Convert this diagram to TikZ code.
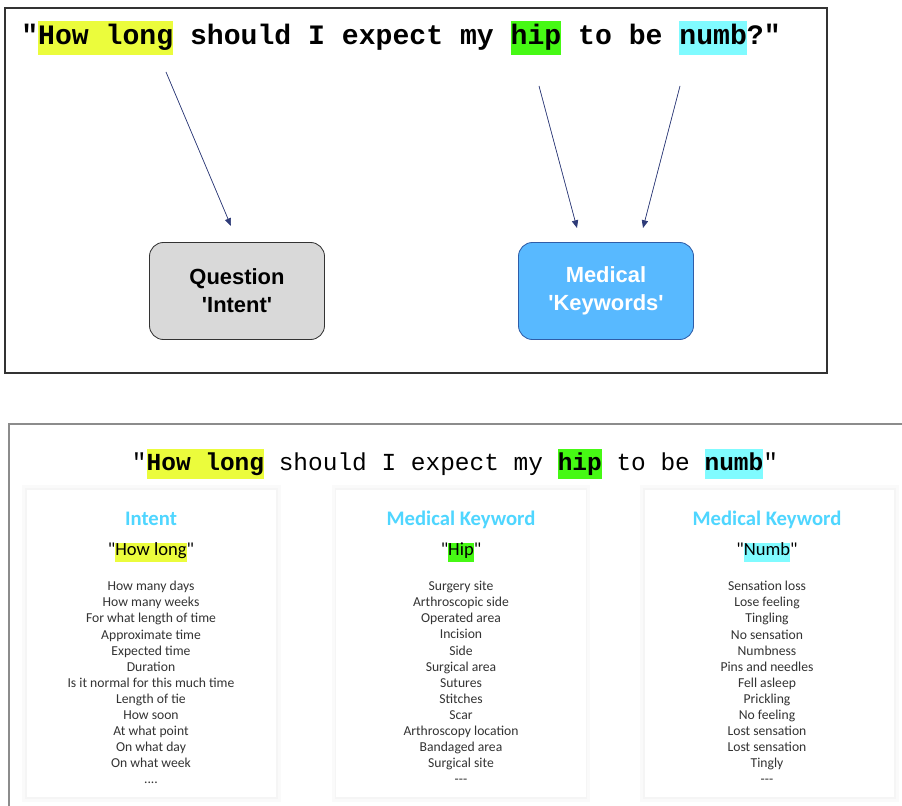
\documentclass[tikz,border=0pt]{standalone}
\usepackage{fontspec}
\setmainfont{Carlito}[Ligatures=TeXOff]
\newfontfamily\monofont{Liberation Mono}[Ligatures=TeXOff]
\newfontfamily\arialfont{Liberation Sans}[Ligatures=TeXOff]
\usepackage{tikz}
\usetikzlibrary{arrows.meta,positioning,calc}
\definecolor{hlyellow}{HTML}{EBFC3C}
\definecolor{hlgreen}{HTML}{46F914}
\definecolor{hlcyan}{HTML}{80FBFF}
\definecolor{titlecyan}{HTML}{4FD6FF}
\definecolor{kwblue}{HTML}{58B9FF}
\definecolor{kwborder}{HTML}{2F5DA8}
\definecolor{arrblue}{HTML}{2E3B78}
\newcommand{\hlw}[2]{{\setlength{\fboxsep}{0pt}\colorbox{#1}{\strut#2}}}

\begin{document}
\begin{tikzpicture}[x=0.025cm, y=-0.025cm,
    box/.style={draw=black!80, rounded corners=0.35cm, minimum width=4.375cm, minimum height=2.425cm, align=center, line width=0.6pt, font=\arialfont\bfseries\fontsize{15.6}{20}\selectfont},
    arr/.style={-{Triangle[length=5.5pt, width=4.5pt]}, draw=arrblue, fill=arrblue, line width=0.5pt},
    card/.style={fill=white, minimum width=6.225cm, minimum height=7.675cm, inner sep=0pt,
        preaction={draw=black!2, line width=7pt}, preaction={draw=black!4, line width=2.5pt}},
    ctitle/.style={inner sep=0pt, text=titlecyan, font=\bfseries\fontsize{14.7}{17}\selectfont},
    cquote/.style={inner sep=0pt, font=\fontsize{13.2}{13.5}\selectfont},
    clist/.style={inner sep=0pt, align=center, text=black!80, font=\fontsize{9.7}{11.45}\selectfont}
]
\useasboundingbox (0,0) rectangle (902,806);

% upper panel
\draw[black!80, line width=1pt] (5,8) rectangle (827,373);
\node[inner sep=0pt, font=\monofont\bfseries\fontsize{20}{24.6}\selectfont] (q1) at (401,38)
    {"\hlw{hlyellow}{How long} should I expect my \hlw{hlgreen}{hip} to be \hlw{hlcyan}{numb}?"};

\node[box, fill=black!15] (intent) at (237,291) {Question\\'Intent'};
\node[box, fill=kwblue, draw=kwborder, text=white] (keywords) at (606,291) {Medical\\'Keywords'};

\coordinate (s1) at (166,72);  \coordinate (e1) at (231,226);
\coordinate (s2) at (539,86);  \coordinate (e2) at (577,228);
\coordinate (s3) at (680,86);  \coordinate (e3) at (643,228);
\draw[arr] (s1) -- (e1);
\draw[arr] (s2) -- (e2);
\draw[arr] (s3) -- (e3);

% lower panel
\draw[black!45, line width=1.2pt] (902,424) -- (9,424) -- (9,806);
\node[inner sep=0pt, font=\monofont\fontsize{17.4}{22}\selectfont] (q2) at (455,464)
    {"\hlw{hlyellow}{\bfseries How long} should I expect my \hlw{hlgreen}{\bfseries hip} to be \hlw{hlcyan}{\bfseries numb}"};

\node[card] (card1) at (151.5,643.5) {};
\node[card] (card2) at (461,643.5) {};
\node[card] (card3) at (769.5,643.5) {};

\node[ctitle, anchor=base] (t1) at (151,526) {Intent};
\node[cquote, anchor=base] (w1) at (151,556) {"\hlw{hlyellow}{How long}"};
\node[clist, anchor=north] (l1) at (151,581) {How many days\\How many weeks\\For what length of time\\Approximate time\\Expected time\\Duration\\Is it normal for this much time\\Length of tie\\How soon\\At what point\\On what day\\On what week\\....};

\node[ctitle, anchor=base] (t2) at (461,526) {Medical Keyword};
\node[cquote, anchor=base] (w2) at (461,556) {"\hlw{hlgreen}{Hip}"};
\node[clist, anchor=north] (l2) at (461,581) {Surgery site\\Arthroscopic side\\Operated area\\Incision\\Side\\Surgical area\\Sutures\\Stitches\\Scar\\Arthroscopy location\\Bandaged area\\Surgical site\\-{}-{}-};

\node[ctitle, anchor=base] (t3) at (767,526) {Medical Keyword};
\node[cquote, anchor=base] (w3) at (767,556) {"\hlw{hlcyan}{Numb}"};
\node[clist, anchor=north] (l3) at (767,581) {Sensation loss\\Lose feeling\\Tingling\\No sensation\\Numbness\\Pins and needles\\Fell asleep\\Prickling\\No feeling\\Lost sensation\\Lost sensation\\Tingly\\-{}-{}-};
\end{tikzpicture}
\end{document}
